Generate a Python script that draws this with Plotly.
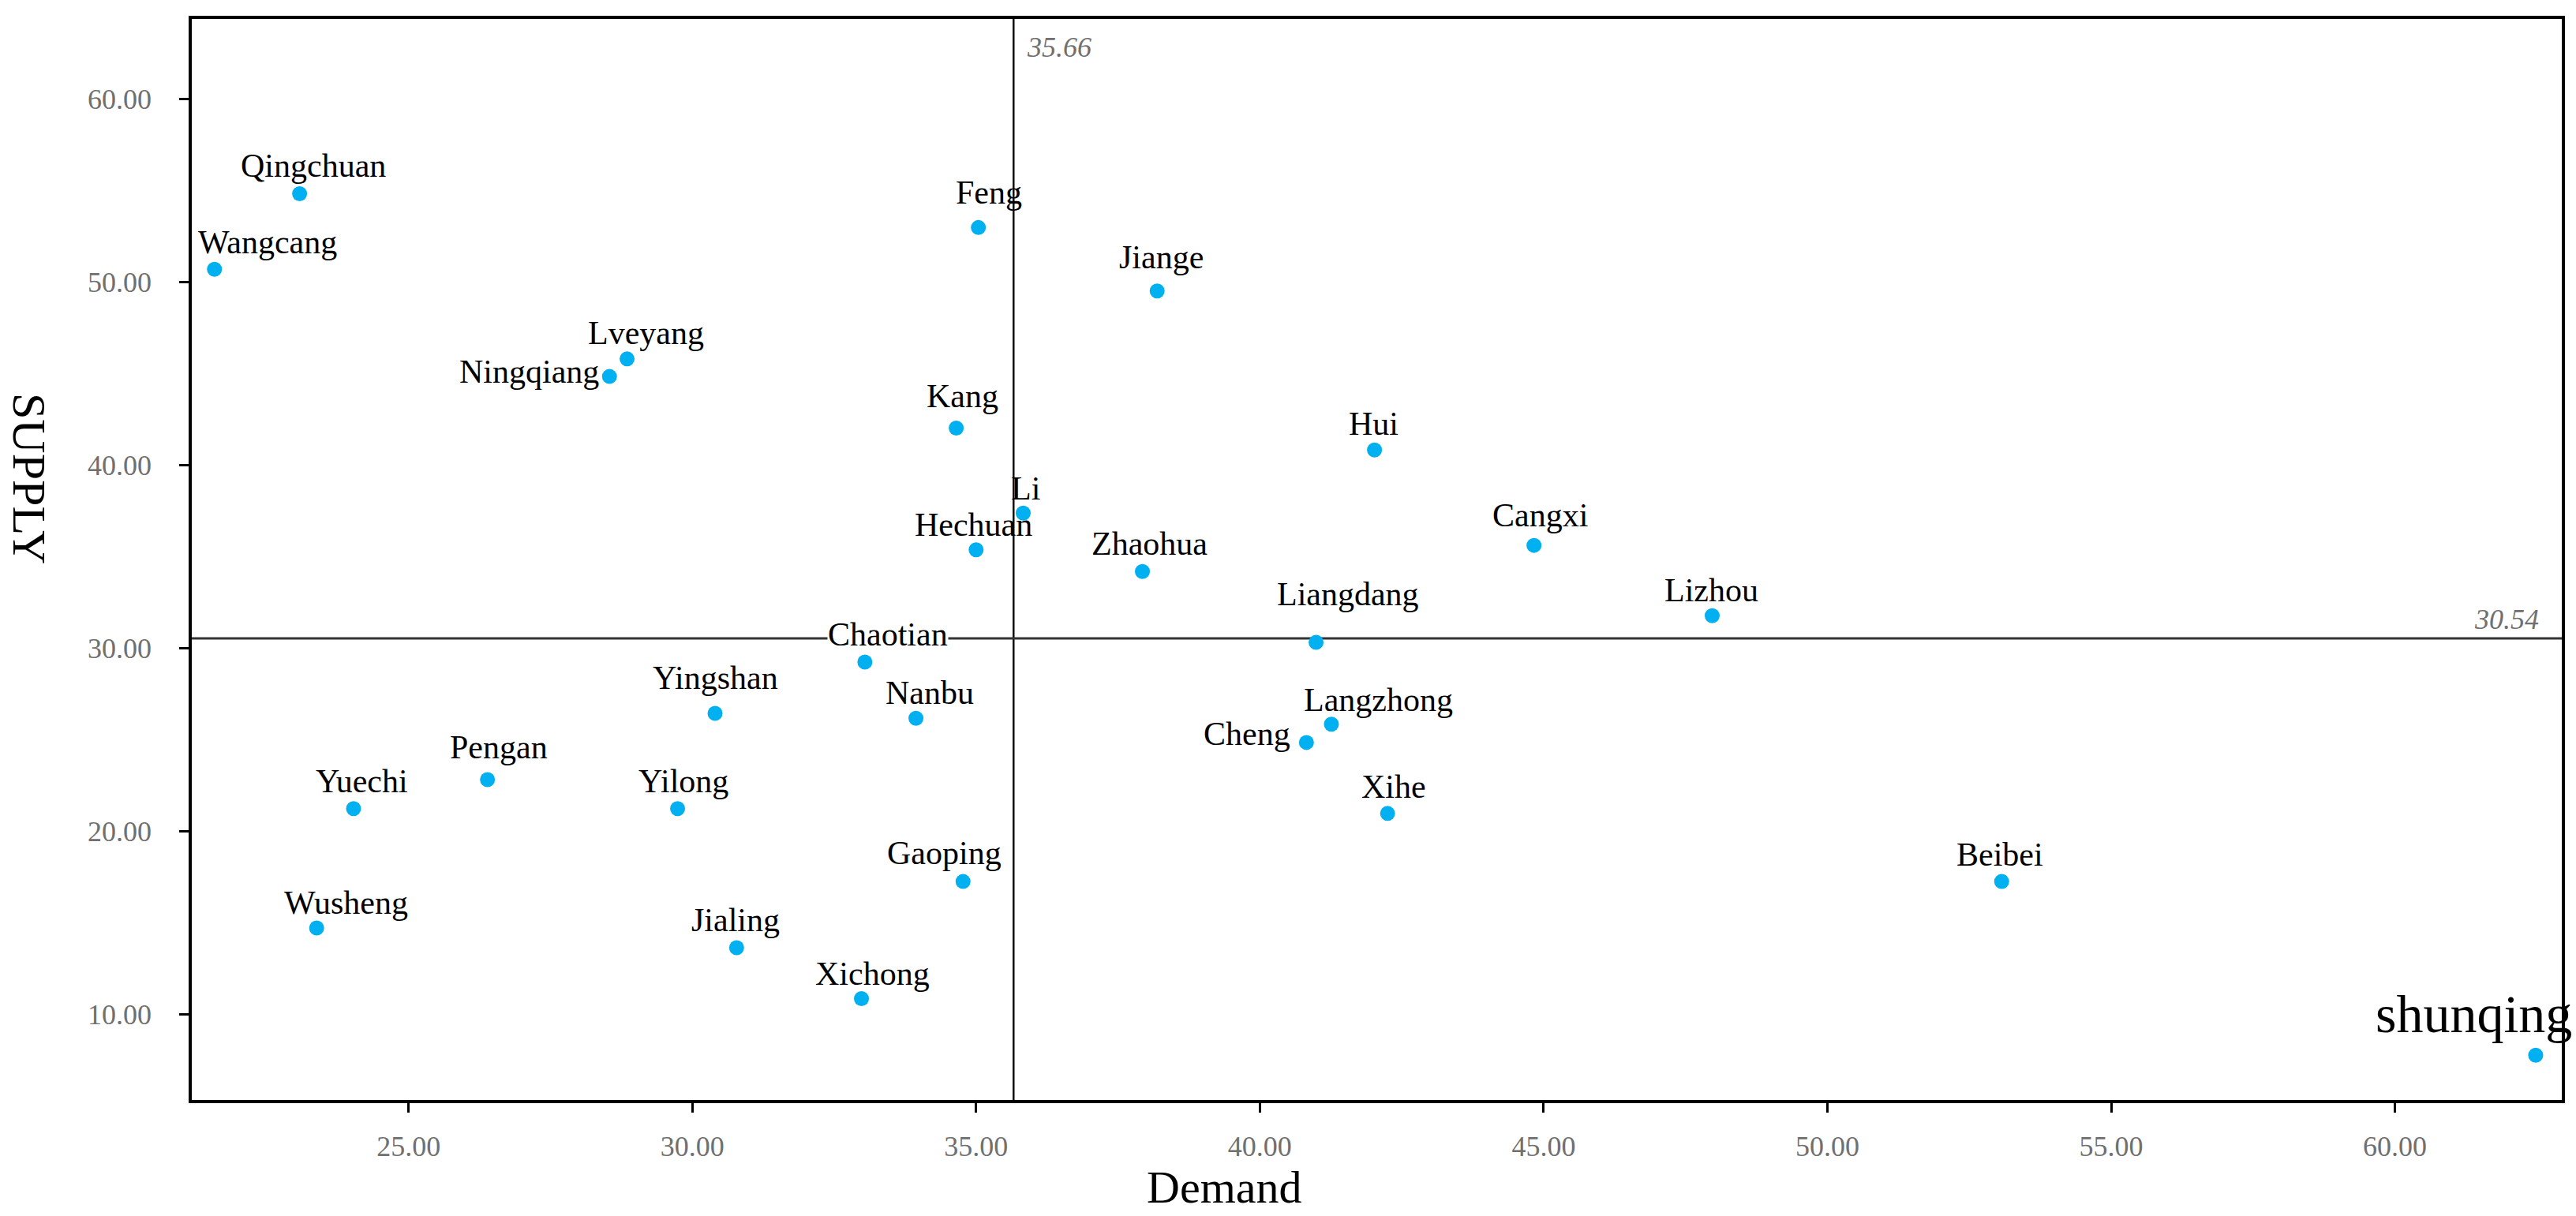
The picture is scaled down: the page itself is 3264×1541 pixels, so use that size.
import plotly.graph_objects as go

# ---- data ----
names = ["Qingchuan", "Wangcang", "Feng", "Jiange", "Lveyang", "Ningqiang", "Kang", "Hui",
         "Li", "Hechuan", "Zhaohua", "Cangxi", "Lizhou", "Liangdang", "Chaotian", "Yingshan",
         "Nanbu", "Langzhong", "Cheng", "Pengan", "Yuechi", "Yilong", "Xihe", "Gaoping",
         "Beibei", "Wusheng", "Jialing", "Xichong", "shunqing"]
demand = [23.08, 21.58, 35.04, 38.19, 28.85, 28.54, 34.65, 42.02,
          35.83, 35.00, 37.93, 44.83, 47.97, 40.99, 33.04, 30.40,
          33.94, 41.26, 40.82, 26.39, 24.03, 29.74, 42.25, 34.77,
          53.07, 23.38, 30.78, 32.98, 62.48]
supply = [54.84, 50.71, 52.99, 49.52, 45.81, 44.85, 42.03, 40.83,
          37.38, 35.38, 34.19, 35.62, 31.78, 30.32, 29.24, 26.44,
          26.17, 25.85, 24.85, 22.82, 21.23, 21.23, 20.97, 17.25,
          17.25, 14.71, 13.63, 10.85, 7.76]
mean_demand = 35.66
mean_supply = 30.54
x_ticks = [25, 30, 35, 40, 45, 50, 55, 60]
x_ticktext = ["25.00", "30.00", "35.00", "40.00", "45.00", "50.00", "55.00", "60.00"]
y_ticks = [10, 20, 30, 40, 50, 60]
y_ticktext = ["10.00", "20.00", "30.00", "40.00", "50.00", "60.00"]

# ---- label placement (pixel offsets: x shift of anchor, baseline height above point) ----
label_pos = {
    "Qingchuan": ("center", 17, 21), "Wangcang": ("center", 67, 19), "Feng": ("center", 13, 29),
    "Jiange": ("center", 5, 28), "Lveyang": ("center", 24, 18), "Ningqiang": ("right", -12, -9),
    "Kang": ("center", 8, 26), "Hui": ("center", -1, 18), "Li": ("center", 3, 16),
    "Hechuan": ("center", -3, 17), "Zhaohua": ("center", 9, 20), "Cangxi": ("center", 8, 23),
    "Lizhou": ("center", -1, 17), "Liangdang": ("center", 40, 46), "Chaotian": ("center", 29, 20),
    "Yingshan": ("center", 0, 30), "Nanbu": ("center", 17, 17), "Langzhong": ("center", 60, 16),
    "Cheng": ("right", -19, -4), "Pengan": ("center", 14, 26), "Yuechi": ("center", 11, 20),
    "Yilong": ("center", 7, 20), "Xihe": ("center", 8, 19), "Gaoping": ("center", -24, 21),
    "Beibei": ("center", -2, 19), "Wusheng": ("center", 37, 17), "Jialing": ("center", -1, 20),
    "Xichong": ("center", 14, 17), "shunqing": ("center", -78, 28),
}
white_bg = {"Chaotian"}

SERIF = "Liberation Serif, Times New Roman, serif"
TICK_COLOR = "#707070"

fig = go.Figure()
fig.add_trace(go.Scatter(
    x=demand, y=supply, mode="markers",
    marker=dict(color="#00B0F0", size=19, line=dict(width=0)),
    showlegend=False, hoverinfo="skip",
))

annotations = []
for n, xv, yv in zip(names, demand, supply):
    anchor, dx, base = label_pos[n]
    size = 68 if n == "shunqing" else 42
    descent = 0.216 * size
    annotations.append(dict(
        x=xv, y=yv, xref="x", yref="y", text=n, showarrow=False,
        xanchor=anchor, yanchor="bottom", xshift=dx, yshift=base - descent,
        borderpad=0, bgcolor="white" if n in white_bg else "rgba(0,0,0,0)",
        font=dict(family=SERIF, size=size, color="black"),
    ))

# reference line labels (italic)
annotations.append(dict(
    x=mean_demand, y=1, xref="x", yref="paper", text=f"<i>{mean_demand:.2f}</i>", showarrow=False,
    xanchor="left", yanchor="top", xshift=16, yshift=-15,
    font=dict(family=SERIF, size=36, color=TICK_COLOR), borderpad=0,
))
annotations.append(dict(
    x=1, y=mean_supply, xref="paper", yref="y", text=f"<i>{mean_supply:.2f}</i>", showarrow=False,
    xanchor="right", yanchor="bottom", xshift=-28, yshift=3,
    font=dict(family=SERIF, size=36, color=TICK_COLOR), borderpad=0,
))

# axis titles
annotations.append(dict(
    x=0.4358, y=-0.0555, xref="paper", yref="paper", text="Demand", showarrow=False,
    xanchor="center", yanchor="top", font=dict(family=SERIF, size=58, color="black"),
))
annotations.append(dict(
    x=-0.0686, y=0.5745, xref="paper", yref="paper", text="SUPPLY", showarrow=False,
    xanchor="center", yanchor="middle", textangle=90,
    font=dict(family=SERIF, size=60, color="black"),
))

shapes = [
    dict(type="line", xref="x", yref="paper", x0=mean_demand, x1=mean_demand, y0=0, y1=1,
         line=dict(color="#111111", width=2.5), layer="below"),
    dict(type="line", xref="paper", yref="y", x0=0, x1=1, y0=mean_supply, y1=mean_supply,
         line=dict(color="#333333", width=3), layer="below"),
]

axis_common = dict(
    showgrid=False, zeroline=False, showline=True, linecolor="black", linewidth=3.5,
    mirror=True, ticks="outside", ticklen=12, tickwidth=2.5, tickcolor="black",
    tickfont=dict(family=SERIF, size=36, color=TICK_COLOR),
)

fig.update_layout(
    width=3264, height=1541,
    margin=dict(l=243, r=18, t=24, b=147),
    paper_bgcolor="white", plot_bgcolor="white",
    xaxis=dict(range=[21.18, 62.94], tickvals=x_ticks, ticktext=x_ticktext,
               ticklabelstandoff=12, **axis_common),
    yaxis=dict(range=[5.31, 64.39], tickvals=y_ticks, ticktext=y_ticktext,
               ticklabelstandoff=28, **axis_common),
    annotations=annotations, shapes=shapes,
)

fig.write_html("out.html", config={"displayModeBar": False},
               post_script="document.body.style.margin='0';")
